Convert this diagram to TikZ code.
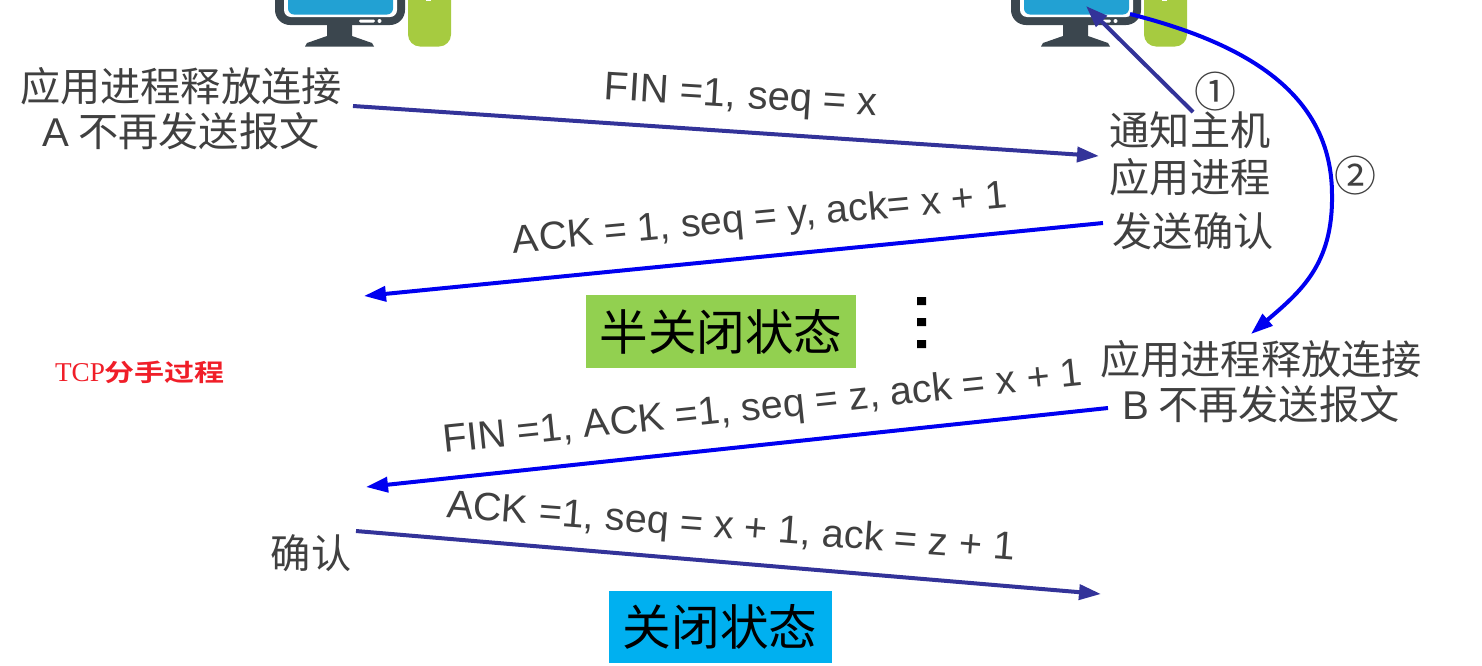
\documentclass[tikz,border=0pt]{standalone}
\usepackage{fontspec}
\usepackage{graphicx}
\setmainfont{Liberation Sans}
\newfontfamily\cjk{Noto Sans CJK SC}
\newfontfamily\cjkb{Noto Sans CJK SC Bold}
\newfontfamily\lser{Liberation Serif}
\usetikzlibrary{arrows.meta}
\definecolor{txt}{HTML}{404040}
\definecolor{navy}{HTML}{333399}
\definecolor{pure}{HTML}{0000F0}
\definecolor{scr}{HTML}{22A1D3}
\definecolor{dark}{HTML}{3B464E}
\definecolor{lime}{HTML}{A6CB40}
\definecolor{gbox}{HTML}{92D050}
\definecolor{bbox}{HTML}{00B0F0}
\tikzset{
 lab/.style={text=txt,font=\cjk\fontsize{20.1}{23.5}\selectfont,align=center,inner sep=0pt},
 msg/.style={text=txt,font=\fontsize{#1}{23}\selectfont,inner sep=0pt},
 arr/.style={line width=2pt,-{Triangle[length=11pt,width=7.5pt]}},
 nv/.style={arr,draw=navy},
 bl/.style={arr,draw=pure},
 state/.style={text=black,font=\cjk\fontsize{24.3}{28}\selectfont,inner sep=0pt,anchor=center},
 num/.style={text=txt,font=\cjk\fontsize{21}{24}\selectfont,inner sep=0pt}
}
\newcommand{\hostpc}[1]{%
 \begin{scope}[shift={(#1,0)}]
  \fill[lime,rounded corners=6pt] (133,-40) rectangle (176,46.5);
  \fill[white] (151,-3) rectangle (156,1);
  \fill[dark,rounded corners=7.5pt] (0,-40) rectangle (130,25);
  \fill[dark] (52,20) -- (77,20) -- (77,36) -- (97,43) -- (99,46.5) -- (30,46.5) -- (32,43) -- (52,36) -- cycle;
  \fill[white,rounded corners=3.5pt] (9,-40) rectangle (122,17);
  \fill[scr,rounded corners=3pt] (13,-40) rectangle (118,14.5);
  \fill[white,rounded corners=0.7pt] (84,19.5) rectangle (100,22.5);
  \fill[white] (104.5,21) circle[radius=2];
 \end{scope}}
\begin{document}
\begin{tikzpicture}[x=0.5pt,y=-0.5pt]
\useasboundingbox (0,0) rectangle (1482,665);
\clip (0,0) rectangle (1482,665);
\hostpc{275}
\hostpc{1011}
\node[lab] (aclose) at (181,109) {应用进程释放连接\\[-1pt]{\fontspec{Liberation Sans}A} 不再发送报文};
\node[lab] (notify) at (1190,154) {通知主机\\应用进程};
\node[lab] (sendack) at (1193,231) {发送确认};
\node[lab] (bclose) at (1261,382) {应用进程释放连接\\[-1pt]{\fontspec{Liberation Sans}B} 不再发送报文};
\node[lab] (conf) at (311,553) {确认};
\node[msg=20,rotate=-3.5] (m1) at (741,98) {FIN =1, seq = x};
\node[msg=19.6,rotate=5.3] (m2) at (760,220) {ACK = 1, seq = y, ack= x + 1};
\node[msg=19.7,rotate=6] (m3) at (763,409) {FIN =1, ACK =1, seq = z, ack = x + 1};
\node[msg=19.75,rotate=-4.3] (m4) at (731,529) {ACK =1, seq = x + 1, ack = z + 1};
\node[state,fill=gbox,minimum width=135pt,minimum height=36.5pt] (half) at (721,331.5) {半关闭状态};
\node[state,fill=bbox,minimum width=111.5pt,minimum height=36pt] (closed) at (720,627) {关闭状态};
\node[num] (n1) at (1215,92) {①};
\node[num] (n2) at (1355,176) {②};
\node[inner sep=0pt,text={rgb,255:red,240;green,30;blue,40}] (cap) at (140,372) {\lser\fontsize{13.6}{14}\selectfont TCP\cjkb\fontsize{15}{14}\selectfont\scalebox{1}[0.8]{分手过程}};
\fill[black] (917,297) rectangle (926,305) (917,318) rectangle (926,326) (917,340) rectangle (926,348);
\coordinate (a1) at (353,106); \coordinate (b1) at (1099,156);
\coordinate (a2) at (1103,223); \coordinate (b2) at (364,296);
\coordinate (a3) at (1108,408); \coordinate (b3) at (366,487);
\coordinate (a4) at (356,531); \coordinate (b4) at (1101,594);
\coordinate (a5) at (1193,112); \coordinate (b5) at (1086,6);
\coordinate (a6) at (1130,14); \coordinate (b6) at (1251,334);
\draw[nv] (a1) -- (b1);
\draw[bl] (a2) -- (b2);
\draw[bl] (a3) -- (b3);
\draw[nv] (a4) -- (b4);
\draw[nv] (a5) -- (b5);
\draw[bl] (a6) .. controls (1240,42) and (1332,90) .. (1332,195) .. controls (1333,265) and (1300,292) .. (b6);
\end{tikzpicture}
\end{document}
